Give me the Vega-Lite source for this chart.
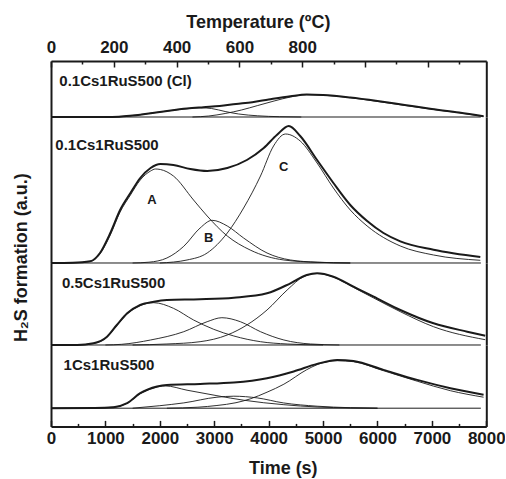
{
  "$schema": "https://vega.github.io/schema/vega-lite/v6.json",
  "background": "white",
  "padding": {"left": 12, "top": 13, "right": 0, "bottom": 0},
  "spacing": 0,
  "bounds": "flush",
  "resolve": {"scale": {"x": "independent", "y": "independent"}},
  "config": {
    "view": {"stroke": null},
    "font": "Liberation Sans",
    "axis": {
      "domainColor": "#1a1a1a", "domainWidth": 2, "tickColor": "#1a1a1a", "tickWidth": 1.5,
      "labelColor": "#1a1a1a", "titleColor": "#1a1a1a",
      "labelFont": "Liberation Sans", "titleFont": "Liberation Sans",
      "labelFontWeight": "bold", "titleFontWeight": "bold",
      "labelFontSize": 17, "titleFontSize": 18, "grid": false
    }
  },
  "datasets": {
    "temperature": [{"temperature": 0}, {"temperature": 800}],
    "labels": [
      {"sample": "0.1Cs1RuS500 (Cl)", "kind": "sample", "label": "0.1Cs1RuS500 (Cl)", "time": 153, "value": 31.3},
      {"sample": "0.1Cs1RuS500", "kind": "sample", "label": "0.1Cs1RuS500", "time": 80, "value": 113.3},
      {"sample": "0.5Cs1RuS500", "kind": "sample", "label": "0.5Cs1RuS500", "time": 202, "value": 57},
      {"sample": "1Cs1RuS500", "kind": "sample", "label": "1Cs1RuS500", "time": 232, "value": 37.8},
      {"sample": "0.1Cs1RuS500", "kind": "peak", "label": "A", "time": 1856, "value": 63.3},
      {"sample": "0.1Cs1RuS500", "kind": "peak", "label": "B", "time": 2897, "value": 25},
      {"sample": "0.1Cs1RuS500", "kind": "peak", "label": "C", "time": 4275, "value": 96}
    ],
    "curves": [
      {"sample": "0.1Cs1RuS500 (Cl)", "series": "Baseline", "time": 0, "value": 0},
      {"sample": "0.1Cs1RuS500 (Cl)", "series": "Baseline", "time": 7900, "value": 0},
      {"sample": "0.1Cs1RuS500 (Cl)", "series": "Total", "time": 0, "value": 0},
      {"sample": "0.1Cs1RuS500 (Cl)", "series": "Total", "time": 1000, "value": 0},
      {"sample": "0.1Cs1RuS500 (Cl)", "series": "Total", "time": 1250, "value": 0.3},
      {"sample": "0.1Cs1RuS500 (Cl)", "series": "Total", "time": 1500, "value": 1.5},
      {"sample": "0.1Cs1RuS500 (Cl)", "series": "Total", "time": 2000, "value": 5},
      {"sample": "0.1Cs1RuS500 (Cl)", "series": "Total", "time": 2500, "value": 8.5},
      {"sample": "0.1Cs1RuS500 (Cl)", "series": "Total", "time": 2800, "value": 9.8},
      {"sample": "0.1Cs1RuS500 (Cl)", "series": "Total", "time": 3100, "value": 11},
      {"sample": "0.1Cs1RuS500 (Cl)", "series": "Total", "time": 3400, "value": 13},
      {"sample": "0.1Cs1RuS500 (Cl)", "series": "Total", "time": 3700, "value": 14.8},
      {"sample": "0.1Cs1RuS500 (Cl)", "series": "Total", "time": 4000, "value": 17.5},
      {"sample": "0.1Cs1RuS500 (Cl)", "series": "Total", "time": 4400, "value": 20.8},
      {"sample": "0.1Cs1RuS500 (Cl)", "series": "Total", "time": 4700, "value": 22.5},
      {"sample": "0.1Cs1RuS500 (Cl)", "series": "Total", "time": 5000, "value": 22},
      {"sample": "0.1Cs1RuS500 (Cl)", "series": "Total", "time": 5500, "value": 19.5},
      {"sample": "0.1Cs1RuS500 (Cl)", "series": "Total", "time": 6000, "value": 16},
      {"sample": "0.1Cs1RuS500 (Cl)", "series": "Total", "time": 6500, "value": 12},
      {"sample": "0.1Cs1RuS500 (Cl)", "series": "Total", "time": 7000, "value": 8},
      {"sample": "0.1Cs1RuS500 (Cl)", "series": "Total", "time": 7500, "value": 4.5},
      {"sample": "0.1Cs1RuS500 (Cl)", "series": "Total", "time": 7950, "value": 0.8},
      {"sample": "0.1Cs1RuS500 (Cl)", "series": "A", "time": 1000, "value": 0},
      {"sample": "0.1Cs1RuS500 (Cl)", "series": "A", "time": 1250, "value": 0.2},
      {"sample": "0.1Cs1RuS500 (Cl)", "series": "A", "time": 1500, "value": 1.5},
      {"sample": "0.1Cs1RuS500 (Cl)", "series": "A", "time": 2000, "value": 5},
      {"sample": "0.1Cs1RuS500 (Cl)", "series": "A", "time": 2500, "value": 8.3},
      {"sample": "0.1Cs1RuS500 (Cl)", "series": "A", "time": 2750, "value": 9.2},
      {"sample": "0.1Cs1RuS500 (Cl)", "series": "A", "time": 2950, "value": 8.5},
      {"sample": "0.1Cs1RuS500 (Cl)", "series": "A", "time": 3200, "value": 5.5},
      {"sample": "0.1Cs1RuS500 (Cl)", "series": "A", "time": 3450, "value": 3},
      {"sample": "0.1Cs1RuS500 (Cl)", "series": "A", "time": 3800, "value": 1.2},
      {"sample": "0.1Cs1RuS500 (Cl)", "series": "A", "time": 4200, "value": 0.3},
      {"sample": "0.1Cs1RuS500 (Cl)", "series": "A", "time": 4600, "value": 0},
      {"sample": "0.1Cs1RuS500 (Cl)", "series": "C", "time": 2600, "value": 0},
      {"sample": "0.1Cs1RuS500 (Cl)", "series": "C", "time": 2900, "value": 1},
      {"sample": "0.1Cs1RuS500 (Cl)", "series": "C", "time": 3200, "value": 3.5},
      {"sample": "0.1Cs1RuS500 (Cl)", "series": "C", "time": 3500, "value": 7},
      {"sample": "0.1Cs1RuS500 (Cl)", "series": "C", "time": 3800, "value": 11.5},
      {"sample": "0.1Cs1RuS500 (Cl)", "series": "C", "time": 4100, "value": 16},
      {"sample": "0.1Cs1RuS500 (Cl)", "series": "C", "time": 4400, "value": 20},
      {"sample": "0.1Cs1RuS500 (Cl)", "series": "C", "time": 4700, "value": 22.3},
      {"sample": "0.1Cs1RuS500 (Cl)", "series": "C", "time": 5000, "value": 21.8},
      {"sample": "0.1Cs1RuS500 (Cl)", "series": "C", "time": 5500, "value": 19.3},
      {"sample": "0.1Cs1RuS500 (Cl)", "series": "C", "time": 6000, "value": 15.6},
      {"sample": "0.1Cs1RuS500 (Cl)", "series": "C", "time": 6500, "value": 11.6},
      {"sample": "0.1Cs1RuS500 (Cl)", "series": "C", "time": 7000, "value": 7.7},
      {"sample": "0.1Cs1RuS500 (Cl)", "series": "C", "time": 7500, "value": 4.2},
      {"sample": "0.1Cs1RuS500 (Cl)", "series": "C", "time": 7950, "value": 0.6},

      {"sample": "0.1Cs1RuS500", "series": "Baseline", "time": 0, "value": 0},
      {"sample": "0.1Cs1RuS500", "series": "Baseline", "time": 7900, "value": 0},
      {"sample": "0.1Cs1RuS500", "series": "Total", "time": 0, "value": 0},
      {"sample": "0.1Cs1RuS500", "series": "Total", "time": 400, "value": 0.3},
      {"sample": "0.1Cs1RuS500", "series": "Total", "time": 720, "value": 1.7},
      {"sample": "0.1Cs1RuS500", "series": "Total", "time": 900, "value": 10},
      {"sample": "0.1Cs1RuS500", "series": "Total", "time": 1090, "value": 30},
      {"sample": "0.1Cs1RuS500", "series": "Total", "time": 1270, "value": 53},
      {"sample": "0.1Cs1RuS500", "series": "Total", "time": 1460, "value": 70},
      {"sample": "0.1Cs1RuS500", "series": "Total", "time": 1640, "value": 85},
      {"sample": "0.1Cs1RuS500", "series": "Total", "time": 1830, "value": 95},
      {"sample": "0.1Cs1RuS500", "series": "Total", "time": 2010, "value": 99},
      {"sample": "0.1Cs1RuS500", "series": "Total", "time": 2250, "value": 98},
      {"sample": "0.1Cs1RuS500", "series": "Total", "time": 2560, "value": 94},
      {"sample": "0.1Cs1RuS500", "series": "Total", "time": 2870, "value": 92},
      {"sample": "0.1Cs1RuS500", "series": "Total", "time": 3240, "value": 95},
      {"sample": "0.1Cs1RuS500", "series": "Total", "time": 3600, "value": 103},
      {"sample": "0.1Cs1RuS500", "series": "Total", "time": 3910, "value": 115},
      {"sample": "0.1Cs1RuS500", "series": "Total", "time": 4150, "value": 128},
      {"sample": "0.1Cs1RuS500", "series": "Total", "time": 4370, "value": 137},
      {"sample": "0.1Cs1RuS500", "series": "Total", "time": 4580, "value": 127},
      {"sample": "0.1Cs1RuS500", "series": "Total", "time": 4890, "value": 103},
      {"sample": "0.1Cs1RuS500", "series": "Total", "time": 5190, "value": 80},
      {"sample": "0.1Cs1RuS500", "series": "Total", "time": 5500, "value": 58},
      {"sample": "0.1Cs1RuS500", "series": "Total", "time": 5810, "value": 42},
      {"sample": "0.1Cs1RuS500", "series": "Total", "time": 6110, "value": 30},
      {"sample": "0.1Cs1RuS500", "series": "Total", "time": 6420, "value": 21.7},
      {"sample": "0.1Cs1RuS500", "series": "Total", "time": 7030, "value": 13.3},
      {"sample": "0.1Cs1RuS500", "series": "Total", "time": 7890, "value": 6},
      {"sample": "0.1Cs1RuS500", "series": "A", "time": 0, "value": 0},
      {"sample": "0.1Cs1RuS500", "series": "A", "time": 400, "value": 0.2},
      {"sample": "0.1Cs1RuS500", "series": "A", "time": 720, "value": 1.5},
      {"sample": "0.1Cs1RuS500", "series": "A", "time": 900, "value": 9},
      {"sample": "0.1Cs1RuS500", "series": "A", "time": 1090, "value": 28},
      {"sample": "0.1Cs1RuS500", "series": "A", "time": 1270, "value": 51},
      {"sample": "0.1Cs1RuS500", "series": "A", "time": 1460, "value": 68},
      {"sample": "0.1Cs1RuS500", "series": "A", "time": 1640, "value": 83},
      {"sample": "0.1Cs1RuS500", "series": "A", "time": 1830, "value": 92},
      {"sample": "0.1Cs1RuS500", "series": "A", "time": 1920, "value": 94},
      {"sample": "0.1Cs1RuS500", "series": "A", "time": 2010, "value": 93.5},
      {"sample": "0.1Cs1RuS500", "series": "A", "time": 2250, "value": 87},
      {"sample": "0.1Cs1RuS500", "series": "A", "time": 2620, "value": 63},
      {"sample": "0.1Cs1RuS500", "series": "A", "time": 2870, "value": 47},
      {"sample": "0.1Cs1RuS500", "series": "A", "time": 3240, "value": 27},
      {"sample": "0.1Cs1RuS500", "series": "A", "time": 3660, "value": 13},
      {"sample": "0.1Cs1RuS500", "series": "A", "time": 4280, "value": 3},
      {"sample": "0.1Cs1RuS500", "series": "A", "time": 4890, "value": 0.7},
      {"sample": "0.1Cs1RuS500", "series": "A", "time": 5500, "value": 0},
      {"sample": "0.1Cs1RuS500", "series": "B", "time": 1500, "value": 0},
      {"sample": "0.1Cs1RuS500", "series": "B", "time": 1800, "value": 0.8},
      {"sample": "0.1Cs1RuS500", "series": "B", "time": 2130, "value": 5},
      {"sample": "0.1Cs1RuS500", "series": "B", "time": 2440, "value": 16.7},
      {"sample": "0.1Cs1RuS500", "series": "B", "time": 2740, "value": 35},
      {"sample": "0.1Cs1RuS500", "series": "B", "time": 2960, "value": 42.7},
      {"sample": "0.1Cs1RuS500", "series": "B", "time": 3240, "value": 37},
      {"sample": "0.1Cs1RuS500", "series": "B", "time": 3540, "value": 25},
      {"sample": "0.1Cs1RuS500", "series": "B", "time": 3970, "value": 10},
      {"sample": "0.1Cs1RuS500", "series": "B", "time": 4400, "value": 3},
      {"sample": "0.1Cs1RuS500", "series": "B", "time": 4890, "value": 0.8},
      {"sample": "0.1Cs1RuS500", "series": "B", "time": 5500, "value": 0},
      {"sample": "0.1Cs1RuS500", "series": "C", "time": 2000, "value": 0},
      {"sample": "0.1Cs1RuS500", "series": "C", "time": 2500, "value": 3},
      {"sample": "0.1Cs1RuS500", "series": "C", "time": 2870, "value": 10},
      {"sample": "0.1Cs1RuS500", "series": "C", "time": 3240, "value": 30},
      {"sample": "0.1Cs1RuS500", "series": "C", "time": 3540, "value": 55},
      {"sample": "0.1Cs1RuS500", "series": "C", "time": 3850, "value": 87},
      {"sample": "0.1Cs1RuS500", "series": "C", "time": 4090, "value": 117},
      {"sample": "0.1Cs1RuS500", "series": "C", "time": 4310, "value": 129},
      {"sample": "0.1Cs1RuS500", "series": "C", "time": 4580, "value": 122},
      {"sample": "0.1Cs1RuS500", "series": "C", "time": 4890, "value": 100},
      {"sample": "0.1Cs1RuS500", "series": "C", "time": 5190, "value": 75},
      {"sample": "0.1Cs1RuS500", "series": "C", "time": 5500, "value": 53},
      {"sample": "0.1Cs1RuS500", "series": "C", "time": 5810, "value": 37},
      {"sample": "0.1Cs1RuS500", "series": "C", "time": 6420, "value": 17},
      {"sample": "0.1Cs1RuS500", "series": "C", "time": 7030, "value": 8},
      {"sample": "0.1Cs1RuS500", "series": "C", "time": 7890, "value": 2.7},

      {"sample": "0.5Cs1RuS500", "series": "Baseline", "time": 0, "value": 0},
      {"sample": "0.5Cs1RuS500", "series": "Baseline", "time": 7900, "value": 0},
      {"sample": "0.5Cs1RuS500", "series": "Total", "time": 0, "value": 0},
      {"sample": "0.5Cs1RuS500", "series": "Total", "time": 480, "value": 0},
      {"sample": "0.5Cs1RuS500", "series": "Total", "time": 780, "value": 1.7},
      {"sample": "0.5Cs1RuS500", "series": "Total", "time": 1030, "value": 8.3},
      {"sample": "0.5Cs1RuS500", "series": "Total", "time": 1210, "value": 20},
      {"sample": "0.5Cs1RuS500", "series": "Total", "time": 1400, "value": 31.7},
      {"sample": "0.5Cs1RuS500", "series": "Total", "time": 1640, "value": 40},
      {"sample": "0.5Cs1RuS500", "series": "Total", "time": 1890, "value": 43.3},
      {"sample": "0.5Cs1RuS500", "series": "Total", "time": 2130, "value": 45},
      {"sample": "0.5Cs1RuS500", "series": "Total", "time": 2740, "value": 45.7},
      {"sample": "0.5Cs1RuS500", "series": "Total", "time": 3360, "value": 47.3},
      {"sample": "0.5Cs1RuS500", "series": "Total", "time": 3970, "value": 51.7},
      {"sample": "0.5Cs1RuS500", "series": "Total", "time": 4400, "value": 61.7},
      {"sample": "0.5Cs1RuS500", "series": "Total", "time": 4700, "value": 70},
      {"sample": "0.5Cs1RuS500", "series": "Total", "time": 4890, "value": 71.7},
      {"sample": "0.5Cs1RuS500", "series": "Total", "time": 5190, "value": 68.3},
      {"sample": "0.5Cs1RuS500", "series": "Total", "time": 5560, "value": 58.3},
      {"sample": "0.5Cs1RuS500", "series": "Total", "time": 5930, "value": 48.3},
      {"sample": "0.5Cs1RuS500", "series": "Total", "time": 6420, "value": 35},
      {"sample": "0.5Cs1RuS500", "series": "Total", "time": 7030, "value": 21.7},
      {"sample": "0.5Cs1RuS500", "series": "Total", "time": 7650, "value": 13.3},
      {"sample": "0.5Cs1RuS500", "series": "Total", "time": 7980, "value": 9.3},
      {"sample": "0.5Cs1RuS500", "series": "A", "time": 0, "value": 0},
      {"sample": "0.5Cs1RuS500", "series": "A", "time": 480, "value": 0},
      {"sample": "0.5Cs1RuS500", "series": "A", "time": 780, "value": 1.5},
      {"sample": "0.5Cs1RuS500", "series": "A", "time": 1030, "value": 8},
      {"sample": "0.5Cs1RuS500", "series": "A", "time": 1210, "value": 19.5},
      {"sample": "0.5Cs1RuS500", "series": "A", "time": 1400, "value": 31},
      {"sample": "0.5Cs1RuS500", "series": "A", "time": 1640, "value": 39.5},
      {"sample": "0.5Cs1RuS500", "series": "A", "time": 1890, "value": 42.3},
      {"sample": "0.5Cs1RuS500", "series": "A", "time": 2250, "value": 36.7},
      {"sample": "0.5Cs1RuS500", "series": "A", "time": 2620, "value": 25},
      {"sample": "0.5Cs1RuS500", "series": "A", "time": 2990, "value": 15.7},
      {"sample": "0.5Cs1RuS500", "series": "A", "time": 3360, "value": 9},
      {"sample": "0.5Cs1RuS500", "series": "A", "time": 3850, "value": 3.3},
      {"sample": "0.5Cs1RuS500", "series": "A", "time": 4340, "value": 1},
      {"sample": "0.5Cs1RuS500", "series": "A", "time": 5000, "value": 0},
      {"sample": "0.5Cs1RuS500", "series": "B", "time": 1000, "value": 0},
      {"sample": "0.5Cs1RuS500", "series": "B", "time": 1300, "value": 0.7},
      {"sample": "0.5Cs1RuS500", "series": "B", "time": 1830, "value": 5},
      {"sample": "0.5Cs1RuS500", "series": "B", "time": 2440, "value": 13.3},
      {"sample": "0.5Cs1RuS500", "series": "B", "time": 2870, "value": 23.3},
      {"sample": "0.5Cs1RuS500", "series": "B", "time": 3140, "value": 27.3},
      {"sample": "0.5Cs1RuS500", "series": "B", "time": 3480, "value": 23.3},
      {"sample": "0.5Cs1RuS500", "series": "B", "time": 3850, "value": 13.3},
      {"sample": "0.5Cs1RuS500", "series": "B", "time": 4280, "value": 5},
      {"sample": "0.5Cs1RuS500", "series": "B", "time": 4770, "value": 1},
      {"sample": "0.5Cs1RuS500", "series": "B", "time": 5300, "value": 0},
      {"sample": "0.5Cs1RuS500", "series": "C", "time": 1500, "value": 0},
      {"sample": "0.5Cs1RuS500", "series": "C", "time": 2130, "value": 1},
      {"sample": "0.5Cs1RuS500", "series": "C", "time": 2740, "value": 3.3},
      {"sample": "0.5Cs1RuS500", "series": "C", "time": 3240, "value": 10},
      {"sample": "0.5Cs1RuS500", "series": "C", "time": 3600, "value": 20},
      {"sample": "0.5Cs1RuS500", "series": "C", "time": 3970, "value": 35},
      {"sample": "0.5Cs1RuS500", "series": "C", "time": 4340, "value": 55},
      {"sample": "0.5Cs1RuS500", "series": "C", "time": 4640, "value": 68.3},
      {"sample": "0.5Cs1RuS500", "series": "C", "time": 4890, "value": 71.5},
      {"sample": "0.5Cs1RuS500", "series": "C", "time": 5190, "value": 68},
      {"sample": "0.5Cs1RuS500", "series": "C", "time": 5560, "value": 57.5},
      {"sample": "0.5Cs1RuS500", "series": "C", "time": 5930, "value": 47},
      {"sample": "0.5Cs1RuS500", "series": "C", "time": 6420, "value": 33.3},
      {"sample": "0.5Cs1RuS500", "series": "C", "time": 7030, "value": 18.3},
      {"sample": "0.5Cs1RuS500", "series": "C", "time": 7980, "value": 5.3},

      {"sample": "1Cs1RuS500", "series": "Baseline", "time": 0, "value": 0},
      {"sample": "1Cs1RuS500", "series": "Baseline", "time": 7900, "value": 0},
      {"sample": "1Cs1RuS500", "series": "Total", "time": 0, "value": 0},
      {"sample": "1Cs1RuS500", "series": "Total", "time": 800, "value": 0.2},
      {"sample": "1Cs1RuS500", "series": "Total", "time": 1150, "value": 1},
      {"sample": "1Cs1RuS500", "series": "Total", "time": 1400, "value": 5},
      {"sample": "1Cs1RuS500", "series": "Total", "time": 1640, "value": 15},
      {"sample": "1Cs1RuS500", "series": "Total", "time": 1950, "value": 21.7},
      {"sample": "1Cs1RuS500", "series": "Total", "time": 2130, "value": 23.3},
      {"sample": "1Cs1RuS500", "series": "Total", "time": 2740, "value": 24.3},
      {"sample": "1Cs1RuS500", "series": "Total", "time": 3360, "value": 25.7},
      {"sample": "1Cs1RuS500", "series": "Total", "time": 3970, "value": 30},
      {"sample": "1Cs1RuS500", "series": "Total", "time": 4460, "value": 36.7},
      {"sample": "1Cs1RuS500", "series": "Total", "time": 4890, "value": 44.3},
      {"sample": "1Cs1RuS500", "series": "Total", "time": 5260, "value": 48.3},
      {"sample": "1Cs1RuS500", "series": "Total", "time": 5560, "value": 47.3},
      {"sample": "1Cs1RuS500", "series": "Total", "time": 6110, "value": 38.3},
      {"sample": "1Cs1RuS500", "series": "Total", "time": 6730, "value": 28.3},
      {"sample": "1Cs1RuS500", "series": "Total", "time": 7340, "value": 20},
      {"sample": "1Cs1RuS500", "series": "Total", "time": 7950, "value": 13.5},
      {"sample": "1Cs1RuS500", "series": "A", "time": 0, "value": 0},
      {"sample": "1Cs1RuS500", "series": "A", "time": 800, "value": 0.2},
      {"sample": "1Cs1RuS500", "series": "A", "time": 1150, "value": 1},
      {"sample": "1Cs1RuS500", "series": "A", "time": 1400, "value": 5},
      {"sample": "1Cs1RuS500", "series": "A", "time": 1640, "value": 14.5},
      {"sample": "1Cs1RuS500", "series": "A", "time": 1900, "value": 20.5},
      {"sample": "1Cs1RuS500", "series": "A", "time": 2100, "value": 22.3},
      {"sample": "1Cs1RuS500", "series": "A", "time": 2500, "value": 18},
      {"sample": "1Cs1RuS500", "series": "A", "time": 3050, "value": 12.5},
      {"sample": "1Cs1RuS500", "series": "A", "time": 3540, "value": 8},
      {"sample": "1Cs1RuS500", "series": "A", "time": 4280, "value": 3.5},
      {"sample": "1Cs1RuS500", "series": "A", "time": 4890, "value": 1.2},
      {"sample": "1Cs1RuS500", "series": "A", "time": 5500, "value": 0.3},
      {"sample": "1Cs1RuS500", "series": "A", "time": 6000, "value": 0},
      {"sample": "1Cs1RuS500", "series": "B", "time": 1500, "value": 0},
      {"sample": "1Cs1RuS500", "series": "B", "time": 2000, "value": 2.5},
      {"sample": "1Cs1RuS500", "series": "B", "time": 2440, "value": 5.3},
      {"sample": "1Cs1RuS500", "series": "B", "time": 3050, "value": 11},
      {"sample": "1Cs1RuS500", "series": "B", "time": 3360, "value": 12},
      {"sample": "1Cs1RuS500", "series": "B", "time": 3790, "value": 10.3},
      {"sample": "1Cs1RuS500", "series": "B", "time": 4270, "value": 5.3},
      {"sample": "1Cs1RuS500", "series": "B", "time": 4890, "value": 2},
      {"sample": "1Cs1RuS500", "series": "B", "time": 5500, "value": 0.5},
      {"sample": "1Cs1RuS500", "series": "B", "time": 6000, "value": 0},
      {"sample": "1Cs1RuS500", "series": "C", "time": 2130, "value": 0},
      {"sample": "1Cs1RuS500", "series": "C", "time": 2700, "value": 1},
      {"sample": "1Cs1RuS500", "series": "C", "time": 3050, "value": 2.7},
      {"sample": "1Cs1RuS500", "series": "C", "time": 3400, "value": 5.5},
      {"sample": "1Cs1RuS500", "series": "C", "time": 3660, "value": 9.3},
      {"sample": "1Cs1RuS500", "series": "C", "time": 3970, "value": 16},
      {"sample": "1Cs1RuS500", "series": "C", "time": 4280, "value": 24},
      {"sample": "1Cs1RuS500", "series": "C", "time": 4700, "value": 38.5},
      {"sample": "1Cs1RuS500", "series": "C", "time": 4890, "value": 43.5},
      {"sample": "1Cs1RuS500", "series": "C", "time": 5260, "value": 47.5},
      {"sample": "1Cs1RuS500", "series": "C", "time": 5560, "value": 46.5},
      {"sample": "1Cs1RuS500", "series": "C", "time": 6110, "value": 37.5},
      {"sample": "1Cs1RuS500", "series": "C", "time": 6730, "value": 27},
      {"sample": "1Cs1RuS500", "series": "C", "time": 7340, "value": 17.5},
      {"sample": "1Cs1RuS500", "series": "C", "time": 7950, "value": 11}
    ]
  },
  "vconcat": [
    {
      "width": 435.3, "height": 56,
      "resolve": {"scale": {"x": "independent", "y": "independent"}},
      "layer": [
        {
          "data": {"name": "curves"},
          "transform": [{"filter": "datum.sample === '0.1Cs1RuS500 (Cl)' && datum.series !== 'Baseline'"}],
          "mark": {"type": "line", "interpolate": "monotone", "color": "#1a1a1a"},
          "encoding": {
            "x": {"field": "time", "type": "quantitative", "scale": {"domain": [0, 8000], "nice": false}, "axis": null},
            "y": {"field": "value", "type": "quantitative", "scale": {"domain": [0, 56], "nice": false, "zero": false}, "axis": {"orient": "left", "ticks": false, "labels": false, "title": null}},
            "detail": {"field": "series", "type": "nominal"},
            "strokeWidth": {"field": "series", "type": "nominal", "scale": {"type": "ordinal", "domain": ["Total", "A", "B", "C"], "range": [2, 0.9, 0.9, 0.9]}, "legend": null}
          }
        },
        {
          "data": {"name": "curves"},
          "transform": [{"filter": "datum.sample === '0.1Cs1RuS500 (Cl)' && datum.series === 'Baseline'"}],
          "mark": {"type": "line", "color": "#1a1a1a", "strokeWidth": 1},
          "encoding": {
            "x": {"field": "time", "type": "quantitative", "scale": {"domain": [0, 8000], "nice": false}, "axis": null},
            "y": {"field": "value", "type": "quantitative", "scale": {"domain": [0, 56], "nice": false, "zero": false}, "axis": {"orient": "right", "ticks": false, "labels": false, "title": null}}
          }
        },
        {
          "data": {"name": "labels"},
          "transform": [{"filter": "datum.sample === '0.1Cs1RuS500 (Cl)' && datum.kind === 'sample'"}],
          "mark": {"type": "text", "align": "left", "baseline": "alphabetic", "fontSize": 15, "fontWeight": "bold", "font": "Liberation Sans", "color": "#1a1a1a"},
          "encoding": {
            "x": {"field": "time", "type": "quantitative", "scale": {"domain": [0, 8000], "nice": false}, "axis": null},
            "y": {"field": "value", "type": "quantitative", "scale": {"domain": [0, 56], "nice": false, "zero": false}, "axis": null},
            "text": {"field": "label"}
          }
        },
        {
          "data": {"name": "temperature"},
          "mark": {"type": "rule", "opacity": 0},
          "encoding": {
            "x": {
              "field": "temperature", "type": "quantitative",
              "scale": {"domain": [0, 1386], "nice": false},
              "axis": {
                "orient": "top",
                "values": [0, 100, 200, 300, 400, 500, 600, 700, 800, 900, 1000, 1100, 1200, 1300],
                "format": "d",
                "labelExpr": "datum.value % 200 === 0 && datum.value <= 800 ? datum.label : ''",
                "tickSize": {"condition": {"test": "datum.value % 200 === 0", "value": -6}, "value": -3},
                "labelPadding": 10.4, "labelFlush": false, "labelOverlap": false,
                "title": "Temperature (ºC)", "titleX": 206.8, "titleY": -33.3, "titleBaseline": "alphabetic", "titleAlign": "center"
              }
            }
          }
        }
      ]
    },
    {
      "width": 435.3, "height": 146,
      "resolve": {"scale": {"x": "independent", "y": "independent"}},
      "layer": [
        {
          "data": {"name": "curves"},
          "transform": [{"filter": "datum.sample === '0.1Cs1RuS500' && datum.series !== 'Baseline'"}],
          "mark": {"type": "line", "interpolate": "monotone", "color": "#1a1a1a"},
          "encoding": {
            "x": {"field": "time", "type": "quantitative", "scale": {"domain": [0, 8000], "nice": false}, "axis": null},
            "y": {"field": "value", "type": "quantitative", "scale": {"domain": [0, 146], "nice": false, "zero": false},
                  "axis": {"orient": "left", "ticks": false, "labels": false, "title": "H₂S formation (a.u.)", "titleX": -24.2, "titleY": 140.2, "titleAlign": "center", "titleBaseline": "alphabetic", "titleAngle": 270}},
            "detail": {"field": "series", "type": "nominal"},
            "strokeWidth": {"field": "series", "type": "nominal", "scale": {"type": "ordinal", "domain": ["Total", "A", "B", "C"], "range": [2, 0.9, 0.9, 0.9]}, "legend": null}
          }
        },
        {
          "data": {"name": "curves"},
          "transform": [{"filter": "datum.sample === '0.1Cs1RuS500' && datum.series === 'Baseline'"}],
          "mark": {"type": "line", "color": "#1a1a1a", "strokeWidth": 1},
          "encoding": {
            "x": {"field": "time", "type": "quantitative", "scale": {"domain": [0, 8000], "nice": false}, "axis": null},
            "y": {"field": "value", "type": "quantitative", "scale": {"domain": [0, 146], "nice": false, "zero": false}, "axis": {"orient": "right", "ticks": false, "labels": false, "title": null}}
          }
        },
        {
          "data": {"name": "labels"},
          "transform": [{"filter": "datum.sample === '0.1Cs1RuS500' && datum.kind === 'sample'"}],
          "mark": {"type": "text", "align": "left", "baseline": "alphabetic", "fontSize": 15, "fontWeight": "bold", "font": "Liberation Sans", "color": "#1a1a1a"},
          "encoding": {
            "x": {"field": "time", "type": "quantitative", "scale": {"domain": [0, 8000], "nice": false}, "axis": null},
            "y": {"field": "value", "type": "quantitative", "scale": {"domain": [0, 146], "nice": false, "zero": false}, "axis": null},
            "text": {"field": "label"}
          }
        },
        {
          "data": {"name": "labels"},
          "transform": [{"filter": "datum.sample === '0.1Cs1RuS500' && datum.kind === 'peak'"}],
          "mark": {"type": "text", "align": "center", "baseline": "middle", "fontSize": 13, "fontWeight": "bold", "font": "Liberation Sans", "color": "#1a1a1a"},
          "encoding": {
            "x": {"field": "time", "type": "quantitative", "scale": {"domain": [0, 8000], "nice": false}, "axis": null},
            "y": {"field": "value", "type": "quantitative", "scale": {"domain": [0, 146], "nice": false, "zero": false}, "axis": null},
            "text": {"field": "label"}
          }
        }
      ]
    },
    {
      "width": 435.3, "height": 82,
      "resolve": {"scale": {"x": "independent", "y": "independent"}},
      "layer": [
        {
          "data": {"name": "curves"},
          "transform": [{"filter": "datum.sample === '0.5Cs1RuS500' && datum.series !== 'Baseline'"}],
          "mark": {"type": "line", "interpolate": "monotone", "color": "#1a1a1a"},
          "encoding": {
            "x": {"field": "time", "type": "quantitative", "scale": {"domain": [0, 8000], "nice": false}, "axis": null},
            "y": {"field": "value", "type": "quantitative", "scale": {"domain": [0, 82], "nice": false, "zero": false}, "axis": {"orient": "left", "ticks": false, "labels": false, "title": null}},
            "detail": {"field": "series", "type": "nominal"},
            "strokeWidth": {"field": "series", "type": "nominal", "scale": {"type": "ordinal", "domain": ["Total", "A", "B", "C"], "range": [2, 0.9, 0.9, 0.9]}, "legend": null}
          }
        },
        {
          "data": {"name": "curves"},
          "transform": [{"filter": "datum.sample === '0.5Cs1RuS500' && datum.series === 'Baseline'"}],
          "mark": {"type": "line", "color": "#1a1a1a", "strokeWidth": 1},
          "encoding": {
            "x": {"field": "time", "type": "quantitative", "scale": {"domain": [0, 8000], "nice": false}, "axis": null},
            "y": {"field": "value", "type": "quantitative", "scale": {"domain": [0, 82], "nice": false, "zero": false}, "axis": {"orient": "right", "ticks": false, "labels": false, "title": null}}
          }
        },
        {
          "data": {"name": "labels"},
          "transform": [{"filter": "datum.sample === '0.5Cs1RuS500' && datum.kind === 'sample'"}],
          "mark": {"type": "text", "align": "left", "baseline": "alphabetic", "fontSize": 15, "fontWeight": "bold", "font": "Liberation Sans", "color": "#1a1a1a"},
          "encoding": {
            "x": {"field": "time", "type": "quantitative", "scale": {"domain": [0, 8000], "nice": false}, "axis": null},
            "y": {"field": "value", "type": "quantitative", "scale": {"domain": [0, 82], "nice": false, "zero": false}, "axis": null},
            "text": {"field": "label"}
          }
        }
      ]
    },
    {
      "width": 435.3, "height": 81.4,
      "resolve": {"scale": {"x": "independent", "y": "independent"}},
      "layer": [
        {
          "data": {"name": "curves"},
          "transform": [{"filter": "datum.sample === '1Cs1RuS500' && datum.series !== 'Baseline'"}],
          "mark": {"type": "line", "interpolate": "monotone", "color": "#1a1a1a"},
          "encoding": {
            "x": {"field": "time", "type": "quantitative", "scale": {"domain": [0, 8000], "nice": false},
                  "axis": {
                    "orient": "bottom",
                    "values": [0, 500, 1000, 1500, 2000, 2500, 3000, 3500, 4000, 4500, 5000, 5500, 6000, 6500, 7000, 7500, 8000],
                    "format": "d",
                    "labelExpr": "datum.value % 1000 === 0 ? datum.label : ''",
                    "tickSize": {"condition": {"test": "datum.value % 1000 === 0", "value": -6}, "value": -3},
                    "labelPadding": 9.7, "labelFlush": false, "labelOverlap": false,
                    "title": "Time (s)", "titleX": 231.8, "titleY": 47.3, "titleBaseline": "alphabetic", "titleAlign": "center"
                  }},
            "y": {"field": "value", "type": "quantitative", "scale": {"domain": [-18.2, 63.2], "nice": false, "zero": false}, "axis": {"orient": "left", "ticks": false, "labels": false, "title": null}},
            "detail": {"field": "series", "type": "nominal"},
            "strokeWidth": {"field": "series", "type": "nominal", "scale": {"type": "ordinal", "domain": ["Total", "A", "B", "C"], "range": [2, 0.9, 0.9, 0.9]}, "legend": null}
          }
        },
        {
          "data": {"name": "curves"},
          "transform": [{"filter": "datum.sample === '1Cs1RuS500' && datum.series === 'Baseline'"}],
          "mark": {"type": "line", "color": "#1a1a1a", "strokeWidth": 1},
          "encoding": {
            "x": {"field": "time", "type": "quantitative", "scale": {"domain": [0, 8000], "nice": false}, "axis": null},
            "y": {"field": "value", "type": "quantitative", "scale": {"domain": [-18.2, 63.2], "nice": false, "zero": false}, "axis": {"orient": "right", "ticks": false, "labels": false, "title": null}}
          }
        },
        {
          "data": {"name": "labels"},
          "transform": [{"filter": "datum.sample === '1Cs1RuS500' && datum.kind === 'sample'"}],
          "mark": {"type": "text", "align": "left", "baseline": "alphabetic", "fontSize": 15, "fontWeight": "bold", "font": "Liberation Sans", "color": "#1a1a1a"},
          "encoding": {
            "x": {"field": "time", "type": "quantitative", "scale": {"domain": [0, 8000], "nice": false}, "axis": null},
            "y": {"field": "value", "type": "quantitative", "scale": {"domain": [-18.2, 63.2], "nice": false, "zero": false}, "axis": null},
            "text": {"field": "label"}
          }
        }
      ]
    }
  ]
}
